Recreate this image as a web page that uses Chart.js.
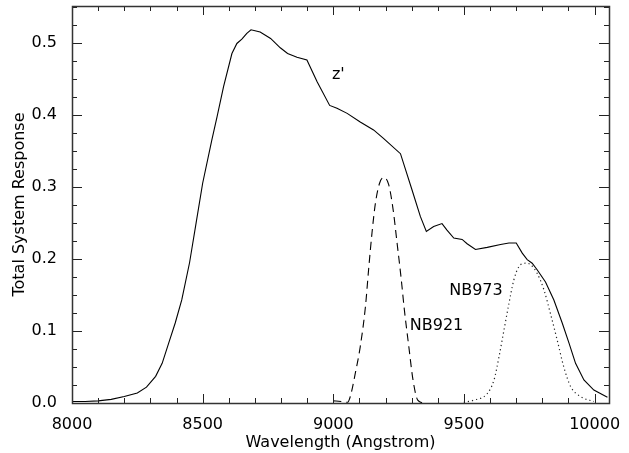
<!DOCTYPE html>
<html>
<head>
<meta charset="utf-8">
<script src="https://cdn.jsdelivr.net/npm/chart.js@4.4.0/dist/chart.umd.min.js"></script>
<style>
  body { margin: 0; background: #fff; }
  #box { width: 629px; height: 453px; }
</style>
</head>
<body>
<div id="box"><canvas id="myChart"></canvas></div>
<script>
// z' filter total response (wavelength in Angstrom)
const zWave = [8000, 8050, 8100, 8150, 8200, 8250, 8285, 8320, 8345, 8370, 8395, 8420, 8450, 8475, 8500, 8535,
    8555, 8580, 8612, 8631, 8650, 8669, 8685, 8720, 8760, 8797, 8825, 8861, 8899, 8938, 8986, 9014, 9053, 9103,
    9154, 9193, 9257, 9301, 9333, 9356, 9384, 9416, 9435, 9461, 9493, 9512, 9544, 9589, 9640, 9672, 9700, 9723,
    9742, 9761, 9780, 9812, 9844, 9876, 9902, 9927, 9959, 9997, 10049];
const zResp = [0.002, 0.002, 0.003, 0.005, 0.009, 0.014, 0.022, 0.037, 0.055, 0.083, 0.111, 0.143, 0.195, 0.250,
    0.305, 0.365, 0.397, 0.439, 0.485, 0.499, 0.505, 0.513, 0.518, 0.515, 0.506, 0.493, 0.485, 0.480, 0.476, 0.446,
    0.413, 0.409, 0.402, 0.390, 0.379, 0.367, 0.346, 0.296, 0.259, 0.238, 0.245, 0.249, 0.240, 0.229, 0.227, 0.221,
    0.213, 0.216, 0.220, 0.222, 0.222, 0.208, 0.199, 0.194, 0.185, 0.168, 0.143, 0.111, 0.083, 0.055, 0.032, 0.018,
    0.008];

// NB921 narrow band
const nb921Wave = [9000, 9030, 9055, 9065, 9084, 9103, 9123, 9135, 9148, 9161, 9177, 9193, 9212, 9229, 9244, 9259,
    9272, 9289, 9305, 9323, 9346];
const nb921Resp = [0.003, 0.002, 0.001, 0.009, 0.041, 0.078, 0.134, 0.185, 0.236, 0.277, 0.305, 0.313, 0.303, 0.268,
    0.222, 0.175, 0.129, 0.078, 0.032, 0.004, 0.0];

// NB973 narrow band
const nb973Wave = [9499, 9538, 9589, 9615, 9634, 9653, 9672, 9691, 9710, 9736, 9755, 9780, 9806, 9831, 9857, 9882,
    9908, 9946, 9997];
const nb973Resp = [0.001, 0.004, 0.013, 0.032, 0.064, 0.101, 0.138, 0.171, 0.189, 0.194, 0.192, 0.180, 0.157, 0.124,
    0.087, 0.050, 0.023, 0.009, 0.002];

// ticks and curve labels
const xTickValues = [8000, 8500, 9000, 9500, 10000];
const yTickValues = [0.0, 0.1, 0.2, 0.3, 0.4, 0.5];
const xMinorStep = 100, yMinorStep = 0.025;
const labelText = ["z'", 'NB921', 'NB973'];
const labelWave = [9019, 9395, 9546];
const labelResp = [0.455, 0.107, 0.155];

const xMin = 8000, xMax = 10055, yMin = 0, yMax = 0.551;
const fontName = "'DejaVu Sans', sans-serif";

function pairs(xs, ys) {
    return xs.map((w, i) => ({x: w, y: ys[i]}));
}

// IDL style box with inward ticks on all four sides, plus the curve labels
const boxTicks = {
    id: 'boxTicks',
    afterDatasetsDraw(chart) {
        const {ctx, chartArea: a, scales: {x, y}} = chart;
        ctx.save();
        ctx.strokeStyle = '#222';
        ctx.lineWidth = 1;
        ctx.beginPath();
        for (let i = 0; xMin + i * xMinorStep <= xMax; i++) {
            const w = xMin + i * xMinorStep;
            const px = Math.round(x.getPixelForValue(w)) + 0.5;
            const len = (i % 5 === 0) ? 9 : 5;
            ctx.moveTo(px, a.bottom); ctx.lineTo(px, a.bottom - len);
            ctx.moveTo(px, a.top); ctx.lineTo(px, a.top + len);
        }
        for (let i = 0; yMin + i * yMinorStep <= yMax; i++) {
            const v = yMin + i * yMinorStep;
            const py = Math.round(y.getPixelForValue(v)) + 0.5;
            const len = (i % 4 === 0) ? 10 : 5;
            ctx.moveTo(a.left, py); ctx.lineTo(a.left + len, py);
            ctx.moveTo(a.right, py); ctx.lineTo(a.right - len, py);
        }
        ctx.stroke();
        ctx.lineWidth = 1.5;
        ctx.strokeStyle = '#333';
        ctx.strokeRect(Math.round(a.left) + 0.5, Math.round(a.top) + 0.5,
            Math.round(a.right - a.left), Math.round(a.bottom - a.top));

        ctx.fillStyle = '#000';
        ctx.font = '16px ' + fontName;
        ctx.textAlign = 'center';
        ctx.textBaseline = 'middle';
        labelText.forEach((t, i) => {
            ctx.fillText(t, x.getPixelForValue(labelWave[i]), y.getPixelForValue(labelResp[i]));
        });
        ctx.restore();
    }
};

const ctx = document.getElementById('myChart').getContext('2d');

const myChart = new Chart(ctx, {
    type: 'line',
    data: {
        datasets: [
            {label: "z'", data: pairs(zWave, zResp), borderColor: '#000', borderWidth: 1.1},
            {label: 'NB921', data: pairs(nb921Wave, nb921Resp), borderColor: '#000', borderWidth: 1.1,
                borderDash: [8, 5], cubicInterpolationMode: 'monotone'},
            {label: 'NB973', data: pairs(nb973Wave, nb973Resp), borderColor: '#222', borderWidth: 1.2,
                borderDash: [1.2, 3], cubicInterpolationMode: 'monotone'}
        ]
    },
    options: {
        responsive: true,
        maintainAspectRatio: false,
        animation: false,
        elements: {point: {radius: 0}, line: {tension: 0}},
        layout: {padding: {top: 6, right: 20, left: 0, bottom: 0}},
        plugins: {legend: {display: false}, tooltip: {enabled: false}},
        scales: {
            x: {
                type: 'linear',
                min: xMin,
                max: xMax,
                grid: {display: false},
                border: {display: false},
                afterBuildTicks: s => { s.ticks = xTickValues.map(v => ({value: v})); },
                afterFit: s => { s.height = 50; s.paddingLeft = 0; s.paddingRight = 0; },
                ticks: {
                    autoSkip: false,
                    maxRotation: 0,
                    padding: 4,
                    color: '#000',
                    font: {family: fontName, size: 16},
                    callback: v => String(v)
                },
                title: {
                    display: true,
                    text: 'Wavelength (Angstrom)',
                    color: '#000',
                    font: {family: fontName, size: 16},
                    padding: {top: 0, bottom: 1}
                }
            },
            y: {
                type: 'linear',
                min: yMin,
                max: yMax,
                grid: {display: false},
                border: {display: false},
                afterBuildTicks: s => { s.ticks = yTickValues.map(v => ({value: v})); },
                afterFit: s => { s.width = 72; s.paddingTop = 0; s.paddingBottom = 0; },
                ticks: {
                    autoSkip: false,
                    padding: 7,
                    color: '#000',
                    font: {family: fontName, size: 16},
                    callback: v => v.toFixed(1)
                },
                title: {
                    display: true,
                    text: 'Total System Response',
                    color: '#000',
                    font: {family: fontName, size: 16},
                    padding: {top: 10, bottom: 0}
                }
            }
        }
    },
    plugins: [boxTicks]
});
</script>
</body>
</html>
